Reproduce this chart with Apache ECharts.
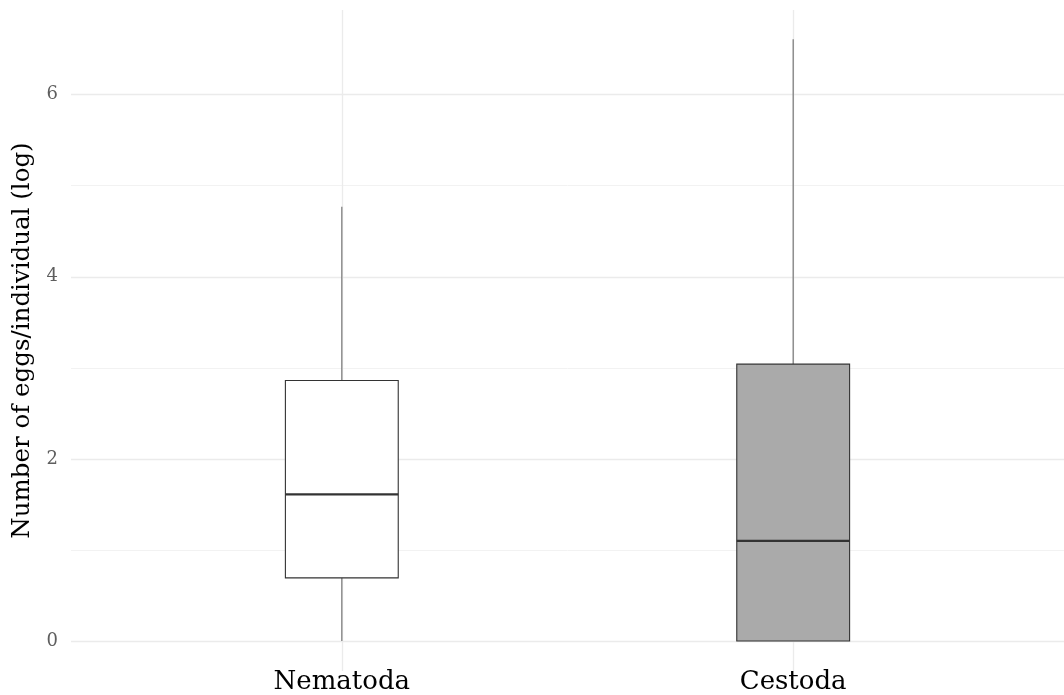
<!DOCTYPE html>
<html>
<head>
<meta charset="utf-8">
<script src="https://cdn.jsdelivr.net/npm/echarts@6/dist/echarts.min.js"></script>
<style>html,body{margin:0;padding:0;background:#fff}#c{width:1064px;height:695px}</style>
</head>
<body>
<div id="c"></div>
<script>
const categories = ['Nematoda', 'Cestoda'];
// [min, Q1, median, Q3, max] on log scale
const boxStats = [
  [0, 0.693, 1.609, 2.86, 4.77],
  [0, 0, 1.099, 3.04, 6.61]
];
const fills = ['#ffffff', '#aaaaaa'];
const yMajorTicks = [0, 2, 4, 6];
const yMinorTicks = [1, 3, 5];
const yTitle = 'Number of eggs/individual (log)';

const FONT = 'DejaVu Serif';
const positions = categories.map((c, i) => i + 1);
const boxData = boxStats.map((s, i) => [positions[i]].concat(s));

const chart = echarts.init(document.getElementById('c'), null, {renderer: 'canvas'});
chart.setOption({
  animation: false,
  backgroundColor: '#ffffff',
  grid: {left: 71, right: 0, top: 10, bottom: 23},
  xAxis: {
    type: 'value', min: 0.4, max: 2.6,
    axisLine: {show: false},
    axisTick: {show: false, customValues: positions},
    axisLabel: {
      customValues: positions,
      formatter: v => categories[Math.round(v) - 1] || '',
      fontFamily: FONT, fontSize: 26, color: '#000', margin: -2
    },
    splitLine: {show: false}
  },
  yAxis: {
    type: 'value', min: -0.33, max: 6.93,
    axisLine: {show: false},
    axisTick: {show: false, customValues: yMajorTicks},
    axisLabel: {customValues: yMajorTicks, fontFamily: FONT, fontSize: 18, color: '#5e5e5e', margin: 13},
    splitLine: {show: false},
    name: yTitle, nameLocation: 'middle', nameGap: 36,
    nameTextStyle: {fontFamily: FONT, fontSize: 24.5, color: '#000'}
  },
  series: [
    {
      type: 'line', data: [], silent: true, z: 1,
      markLine: {
        silent: true, symbol: 'none', label: {show: false}, z: 1,
        lineStyle: {color: '#f2f2f2', width: 1, type: 'solid'},
        data: yMinorTicks.map(v => ({yAxis: v}))
      }
    },
    {
      type: 'line', data: [], silent: true, z: 1,
      markLine: {
        silent: true, symbol: 'none', label: {show: false}, z: 1,
        lineStyle: {color: '#ebebeb', width: 1.3, type: 'solid'},
        data: yMajorTicks.map(v => ({yAxis: v})).concat(positions.map(v => ({xAxis: v})))
      }
    },
    {
      type: 'custom', z: 10,
      data: boxData,
      encode: {x: 0, y: [1, 2, 3, 4, 5]},
      renderItem: function (params, api) {
        const x = api.value(0);
        const half = 0.125;
        const pMin = api.coord([x, api.value(1)]);
        const pQ1 = api.coord([x, api.value(2)]);
        const pMed = api.coord([x, api.value(3)]);
        const pQ3 = api.coord([x, api.value(4)]);
        const pMax = api.coord([x, api.value(5)]);
        const xl = api.coord([x - half, 0])[0];
        const xr = api.coord([x + half, 0])[0];
        const fill = fills[params.dataIndex];
        return {
          type: 'group',
          children: [
            {type: 'line', shape: {x1: pMin[0], y1: pMin[1], x2: pQ1[0], y2: pQ1[1]}, style: {stroke: '#777', lineWidth: 1.2}},
            {type: 'line', shape: {x1: pQ3[0], y1: pQ3[1], x2: pMax[0], y2: pMax[1]}, style: {stroke: '#777', lineWidth: 1.2}},
            {type: 'rect', shape: {x: xl, y: pQ3[1], width: xr - xl, height: pQ1[1] - pQ3[1]}, style: {fill: fill, stroke: '#333', lineWidth: 1.1}},
            {type: 'line', shape: {x1: xl, y1: pMed[1], x2: xr, y2: pMed[1]}, style: {stroke: '#333', lineWidth: 2.2}}
          ]
        };
      }
    }
  ]
});
</script>
</body>
</html>
